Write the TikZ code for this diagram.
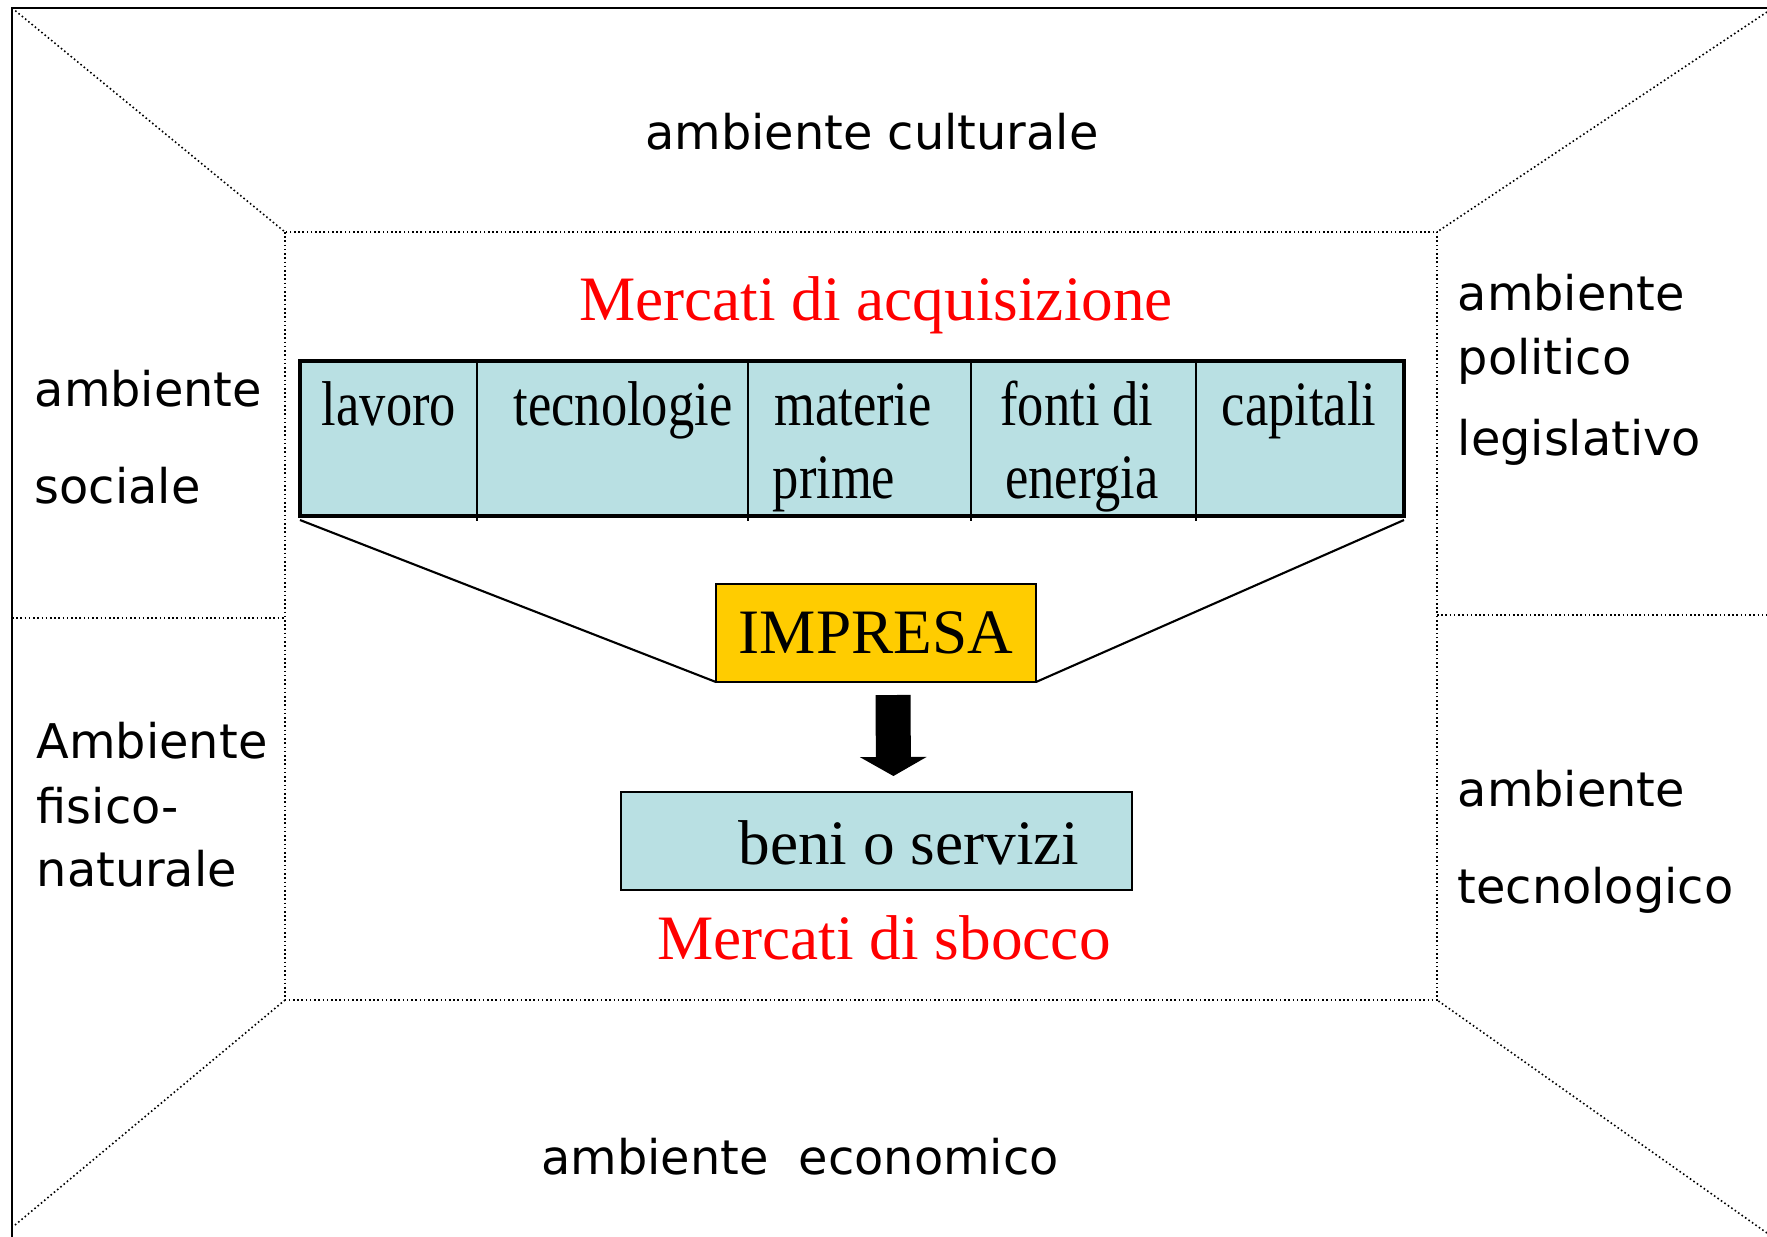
\documentclass[tikz,border=0pt]{standalone}
\usepackage{fontspec}
\setmainfont{Liberation Serif}
\setsansfont{DejaVu Sans}
\newfontfamily\narrowserif[FakeStretch=0.83]{Liberation Serif}
\usepackage{tikz}
\usetikzlibrary{positioning,arrows.meta}

\definecolor{cellblue}{RGB}{185,224,227}
\definecolor{impgold}{RGB}{255,204,0}

\begin{document}
\begin{tikzpicture}[x=0.1mm,y=-0.1mm,
		envline/.style={line width=0.45pt,dash pattern=on 0.45pt off 0.75pt},
		envtext/.style={inner sep=0,anchor=base west,font=\sffamily\fontsize{13.6}{17}\selectfont},
		redtitle/.style={inner sep=0,anchor=base,text=red,font=\fontsize{18}{22}\selectfont},
		celltext/.style={inner sep=0,anchor=base,font=\narrowserif\fontsize{18}{22}\selectfont},
		cell/.style={draw,fill=cellblue,line width=0.55pt,inner sep=0,outer sep=0,minimum height=15.5mm},
		boxtext/.style={draw,line width=0.6pt,inner sep=0,outer sep=0,minimum height=9.8mm,font=\fontsize{18}{22}\selectfont}]

		\useasboundingbox (0,0) rectangle (1767,1236);

		%frame corners
		\coordinate (o-nw) at (12,8);
		\coordinate (o-ne) at (1767,12);
		\coordinate (o-sw) at (15,1225);
		\coordinate (o-se) at (1767,1233);
		\coordinate (i-nw) at (285,232);
		\coordinate (i-ne) at (1437,232);
		\coordinate (i-sw) at (285,1000);
		\coordinate (i-se) at (1437,1000);

		%frame
		\draw[line width=0.6pt] (12,1300) -- (o-nw) -- (1800,8);
		\draw[envline] (i-nw) rectangle (i-se);
		\draw[envline] (o-nw) -- (i-nw);
		\draw[envline] (o-ne) -- (i-ne);
		\draw[envline] (o-sw) -- (i-sw);
		\draw[envline] (o-se) -- (i-se);
		\draw[envline] (12,618) -- (285,618);
		\draw[envline] (1437,615) -- (1767,615);

		%environments
		\node[envtext,anchor=base] (cult) at (872,149) {ambiente culturale};
		\node[envtext] (soc1) at (34,406) {ambiente};
		\node[envtext] (soc2) at (34,503) {sociale};
		\node[envtext] (fis1) at (36,758) {Ambiente};
		\node[envtext] (fis2) at (36,823) {fisico-};
		\node[envtext] (fis3) at (36,886) {naturale};
		\node[envtext] (pol1) at (1457,310) {ambiente};
		\node[envtext] (pol2) at (1457,374) {politico};
		\node[envtext] (pol3) at (1457,455) {legislativo};
		\node[envtext] (tec1) at (1457,806) {ambiente};
		\node[envtext] (tec2) at (1457,903) {tecnologico};
		\node[envtext,anchor=base] (eco) at (800,1174) {ambiente\ \ economico};

		%markets in
		\node[redtitle] (acqtitle) at (876,320) {Mercati di acquisizione};
		\node[cell,minimum width=17.7mm] (c1) at (388.5,438.5) {};
		\node[cell,minimum width=27.1mm] (c2) at (612.5,438.5) {};
		\node[cell,minimum width=22.3mm] (c3) at (859.5,438.5) {};
		\node[cell,minimum width=22.5mm] (c4) at (1083.5,438.5) {};
		\node[cell,minimum width=20.8mm] (c5) at (1300,438.5) {};
		\node[draw,line width=1.1pt,inner sep=0,outer sep=0,minimum width=110.4mm,minimum height=15.5mm] (acq) at (852,438.5) {};
		\foreach \c in {c1,c2,c3,c4}
			\draw[line width=0.55pt] (\c.south east) -- ++(0,5);

		\node[celltext] (t1) at (389,425) {lavoro};
		\node[celltext] (t2) at (623,425) {tecnologie};
		\node[celltext] (t3) at (853,425) {materie};
		\node[celltext] (t3b) at (834,498) {prime};
		\node[celltext] (t4) at (1077,425) {fonti di};
		\node[celltext] (t4b) at (1082,498) {energia};
		\node[celltext] (t5) at (1299,425) {capitali};

		%firm
		\node[boxtext,fill=impgold,minimum width=32mm] (impresa) at (876,633) {IMPRESA};
		\draw[line width=0.6pt] ([yshift=-0.4mm]acq.south west) -- (impresa.south west);
		\draw[line width=0.6pt] ([yshift=-0.4mm]acq.south east) -- (impresa.south east);

		%markets out
		\node[boxtext,fill=cellblue,minimum width=51.1mm] (beni) at (876.5,841) {};
		\node[inner sep=0,anchor=base,font=\fontsize{18}{22}\selectfont] (benitext) at (909,864) {beni o servizi};
		\draw[line width=3.5mm,-{Triangle[length=1.9mm,width=6.6mm]},shorten <=1.3mm,shorten >=1.6mm]
			([xshift=1.7mm]impresa.south) -- ([xshift=1.7mm]beni.north);
		\node[redtitle] (sbocco) at (884,959) {Mercati di sbocco};

		\end{tikzpicture}
\end{document}
